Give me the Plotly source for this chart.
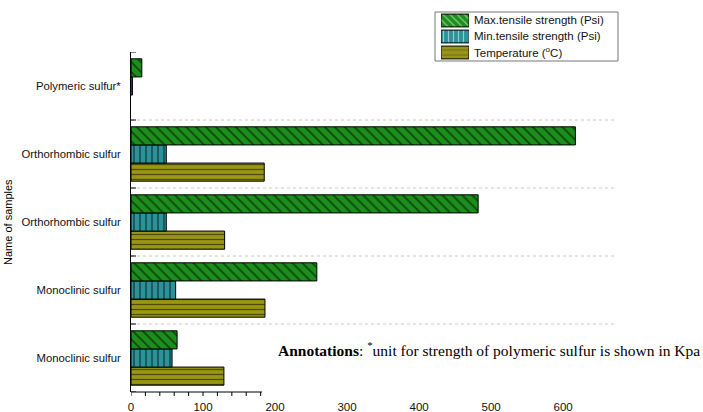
import plotly.graph_objects as go

# Sulfur samples, listed from the bottom of the chart to the top
samples = ["Monoclinic sulfur", "Monoclinic sulfur", "Orthorhombic sulfur",
           "Orthorhombic sulfur", "Polymeric sulfur*"]
positions = list(range(len(samples)))

max_strength = [64, 258, 482, 617, 15]     # Psi (Kpa for polymeric)
min_strength = [57, 62, 49, 49, 2]         # Psi (Kpa for polymeric)
temperature = [129, 186, 130, 185, None]   # deg C

series_names = ["Max.tensile strength (Psi)", "Min.tensile strength (Psi)",
                "Temperature (<sup>o</sup>C)"]

x_ticks = [0, 100, 200, 300, 400, 500, 600]
minor_ticks = list(range(0, 200, 20))

GREEN = "#1b8e1b"
TEAL = "#2a9298"
OLIVE = "#9a9614"
FONT = "Liberation Sans, Arial, sans-serif"

styles = [  # colour, pattern shape, pattern size
    (GREEN, "\\", 7),
    (TEAL, "|", 6),
    (OLIVE, "-", 5),
]


def bar_marker(color, shape, size):
    return dict(color=color, line=dict(color="black", width=1),
                pattern=dict(shape=shape, fgcolor="black", bgcolor=color,
                             size=size, solidity=0.25))


fig = go.Figure()

# traces are added bottom-up inside each group
for values, (color, shape, size), name in reversed(list(zip(
        [max_strength, min_strength, temperature], styles, series_names))):
    fig.add_trace(go.Bar(y=positions, x=values, orientation="h", name=name,
                         marker=bar_marker(color, shape, size), showlegend=False))

# legend key swatches drawn on their own small axes
key_rows = [2, 1, 0]
fig.add_trace(go.Bar(
    y=key_rows, x=[1, 1, 1], orientation="h", xaxis="x2", yaxis="y2",
    showlegend=False, hoverinfo="skip",
    marker=dict(color=[s[0] for s in styles], line=dict(color="black", width=1),
                pattern=dict(shape=[s[1] for s in styles], fgcolor="black",
                             bgcolor=[s[0] for s in styles], size=5, solidity=0.25)),
))

PLOT_L, PLOT_R, PLOT_T, PLOT_B = 131, 615, 0, 392
pw, ph = PLOT_R - PLOT_L, PLOT_B - PLOT_T


def px_x(x):
    return (x - PLOT_L) / pw


def px_y(y):
    return (PLOT_B - y) / ph


shapes = []
# dotted separators between sample groups
for b in [0.5, 1.5, 2.5, 3.5]:
    shapes.append(dict(type="line", xref="paper", yref="y", x0=0, x1=1, y0=b, y1=b,
                       line=dict(color="#c8c8c8", width=1, dash="dot"), layer="below"))
# crossing tick marks on the category axis
for b in [-0.5, 0.5, 1.5, 2.5, 3.5, 4.5]:
    shapes.append(dict(type="line", xref="x", yref="y", xsizemode="pixel", xanchor=0,
                       x0=-6, x1=5, y0=b, y1=b, line=dict(color="black", width=1)))
# short value axis with minor ticks
shapes.append(dict(type="line", xref="x", yref="paper", x0=-5, x1=182, y0=0, y1=0,
                   line=dict(color="black", width=1)))
for t in minor_ticks:
    shapes.append(dict(type="line", xref="x", yref="paper", ysizemode="pixel", yanchor=0,
                       x0=t, x1=t, y0=0, y1=-4, line=dict(color="black", width=1)))
# legend frame
shapes.append(dict(type="rect", xref="paper", yref="paper",
                   x0=px_x(435), x1=px_x(618), y0=px_y(61), y1=px_y(12),
                   line=dict(color="#777777", width=1), fillcolor="rgba(0,0,0,0)"))

annotations = [
    dict(text="<b>Annotations</b>: <sup>*</sup>unit for strength of polymeric sulfur is shown in Kpa",
         xref="paper", yref="paper", x=px_x(276), y=px_y(349), xanchor="left",
         yanchor="middle", showarrow=False,
         font=dict(family="Liberation Serif, Times New Roman, serif", size=15.5,
                   color="black")),
    dict(text="Name of samples", xref="paper", yref="paper", x=px_x(8), y=px_y(222),
         xanchor="center", yanchor="middle", textangle=-90, showarrow=False,
         font=dict(family=FONT, size=11, color="black")),
]
for row, name in zip(key_rows, series_names):
    annotations.append(dict(text=name, xref="paper", yref="y2", x=px_x(472), y=row,
                            xanchor="left", yanchor="middle", showarrow=False,
                            font=dict(family=FONT, size=11.5, color="#111111")))

fig.update_layout(
    width=703, height=412,
    margin=dict(l=PLOT_L, r=703 - PLOT_R, t=PLOT_T, b=412 - PLOT_B),
    paper_bgcolor="white", plot_bgcolor="white",
    barmode="group", bargap=0.2, bargroupgap=0,
    font=dict(family=FONT, size=11, color="#111111"),
    showlegend=False,
    xaxis=dict(range=[0, 672], tickvals=x_ticks, showgrid=False, zeroline=False,
               showline=False, ticks="", ticklabelstandoff=6,
               tickfont=dict(family=FONT, size=11.5)),
    yaxis=dict(domain=[0, px_y(52)], range=[-0.5, 4.5], tickvals=positions,
               ticktext=samples, showgrid=False, zeroline=False, showline=True,
               linecolor="black", linewidth=1, ticks="", ticklabelstandoff=7,
               tickfont=dict(family=FONT, size=11.3)),
    xaxis2=dict(domain=[px_x(441), px_x(469)], range=[0, 1], visible=False,
                anchor="y2"),
    yaxis2=dict(domain=[px_y(60.5), px_y(12.5)], range=[-0.5, 2.5], visible=False,
                anchor="x2"),
    shapes=shapes,
    annotations=annotations,
)

fig.write_html("out.html")
